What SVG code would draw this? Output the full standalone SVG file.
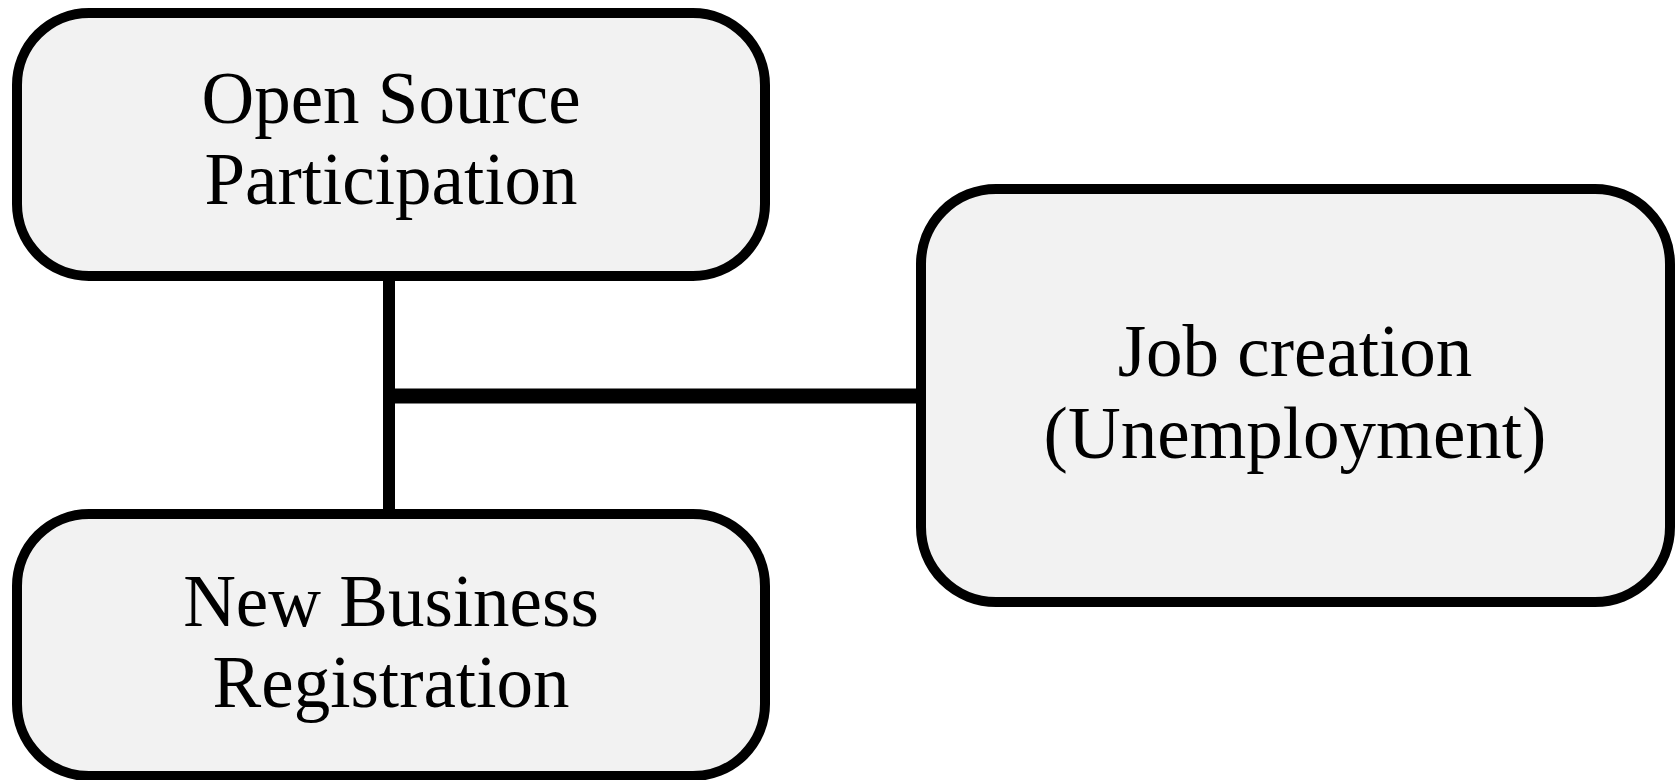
<svg xmlns="http://www.w3.org/2000/svg" width="1677" height="780" viewBox="0 0 1677 780">
<style>
.box{fill:#f2f2f2;stroke:#000;stroke-width:10}
.lbl{font-family:"Liberation Serif","Times New Roman",serif;font-size:73px;fill:#000;text-anchor:middle}
.conn{stroke:#000;fill:none}
</style>
<rect width="1677" height="780" fill="#fff"/>
<g id="connectors">
<line class="conn" x1="389" y1="276" x2="389" y2="514" stroke-width="12"/>
<line class="conn" x1="395" y1="396" x2="921" y2="396" stroke-width="15"/>
</g>
<g id="node-open-source">
<rect class="box" x="17" y="13" width="748" height="263" rx="72" ry="72"/>
<text class="lbl" x="391" y="123">Open Source</text>
<text class="lbl" x="391" y="204">Participation</text>
</g>
<g id="node-new-business">
<rect class="box" x="17" y="514" width="748" height="262" rx="72" ry="72"/>
<text class="lbl" x="391" y="626">New Business</text>
<text class="lbl" x="391" y="707">Registration</text>
</g>
<g id="node-job-creation">
<rect class="box" x="921" y="189" width="749" height="413" rx="75" ry="75"/>
<text class="lbl" x="1295" y="376">Job creation</text>
<text class="lbl" x="1295" y="458">(Unemployment)</text>
</g>
</svg>
